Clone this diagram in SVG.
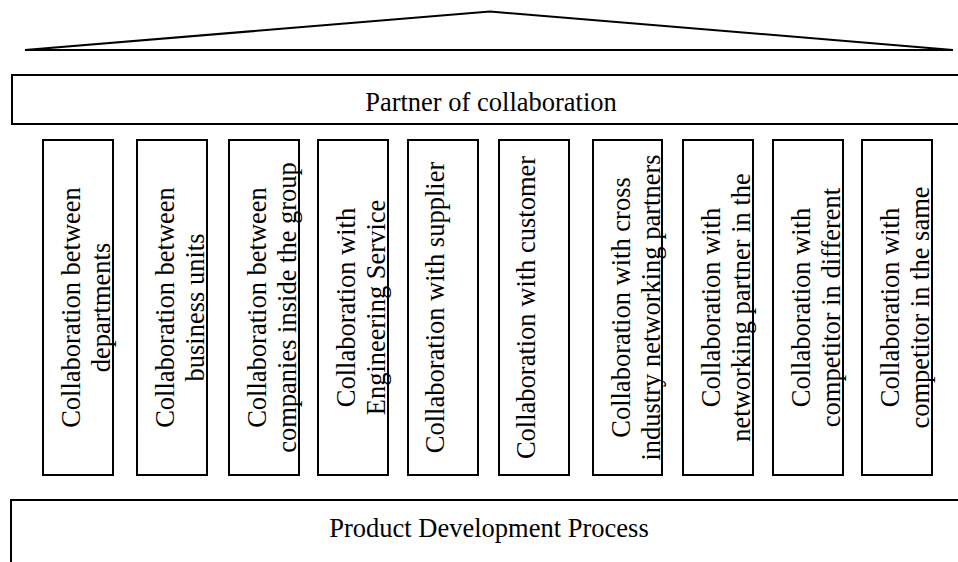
<svg xmlns="http://www.w3.org/2000/svg" width="958" height="562" viewBox="0 0 958 562">
  <style>
    .box { fill: #ffffff; stroke: #000000; stroke-width: 2; }
    .roof { fill: none; stroke: #000000; stroke-width: 2; stroke-linejoin: miter; }
    .lbl { font-family: "Liberation Serif", "Times New Roman", serif; font-size: 26.5px; fill: #000000; text-anchor: middle; }
  </style>
  <rect width="958" height="562" fill="#ffffff"/>

  <!-- roof of the house -->
  <g id="roof">
    <polygon class="roof" points="25,50 490,11.5 953,50"/>
  </g>

  <!-- top beam -->
  <g id="partner">
    <rect class="box" x="12" y="75" width="960" height="49"/>
    <text class="lbl" x="491" y="111">Partner of collaboration</text>
  </g>

  <!-- pillars: vertical text, reading bottom to top -->
  <g id="pillar-departments">
    <rect class="box" x="43" y="140" width="70" height="335"/>
    <text class="lbl" transform="translate(79.5,307.5) rotate(-90)"><tspan x="0" y="0">Collaboration between</tspan><tspan x="0" y="30">departments</tspan></text>
  </g>
  <g id="pillar-business-units">
    <rect class="box" x="137" y="140" width="70" height="335"/>
    <text class="lbl" transform="translate(173.5,307.5) rotate(-90)"><tspan x="0" y="0">Collaboration between</tspan><tspan x="0" y="30">business units</tspan></text>
  </g>
  <g id="pillar-group-companies">
    <rect class="box" x="229" y="140" width="70" height="335"/>
    <text class="lbl" transform="translate(265.5,307.5) rotate(-90)"><tspan x="0" y="0">Collaboration between</tspan><tspan x="0" y="30">companies inside the group</tspan></text>
  </g>
  <g id="pillar-engineering-service">
    <rect class="box" x="318" y="140" width="70" height="335"/>
    <text class="lbl" transform="translate(354.5,307.5) rotate(-90)"><tspan x="0" y="0">Collaboration with</tspan><tspan x="0" y="30">Engineering Service</tspan></text>
  </g>
  <g id="pillar-supplier">
    <rect class="box" x="408" y="140" width="70" height="335"/>
    <text class="lbl" transform="translate(443.5,307.5) rotate(-90)"><tspan x="0" y="0">Collaboration with supplier</tspan></text>
  </g>
  <g id="pillar-customer">
    <rect class="box" x="499" y="140" width="70" height="335"/>
    <text class="lbl" transform="translate(534.5,307.5) rotate(-90)"><tspan x="0" y="0">Collaboration with customer</tspan></text>
  </g>
  <g id="pillar-cross-industry">
    <rect class="box" x="593" y="140" width="69" height="335"/>
    <text class="lbl" transform="translate(629.5,307.5) rotate(-90)"><tspan x="0" y="0">Collaboration with cross</tspan><tspan x="0" y="30">industry networking partners</tspan></text>
  </g>
  <g id="pillar-networking-partner">
    <rect class="box" x="683" y="140" width="70" height="335"/>
    <text class="lbl" transform="translate(719.5,307.5) rotate(-90)"><tspan x="0" y="0">Collaboration with</tspan><tspan x="0" y="30">networking partner in the</tspan></text>
  </g>
  <g id="pillar-competitor-different">
    <rect class="box" x="773" y="140" width="70" height="335"/>
    <text class="lbl" transform="translate(809.5,307.5) rotate(-90)"><tspan x="0" y="0">Collaboration with</tspan><tspan x="0" y="30">competitor in different</tspan></text>
  </g>
  <g id="pillar-competitor-same">
    <rect class="box" x="862" y="140" width="70" height="335"/>
    <text class="lbl" transform="translate(898.5,307.5) rotate(-90)"><tspan x="0" y="0">Collaboration with</tspan><tspan x="0" y="30">competitor in the same</tspan></text>
  </g>

  <!-- foundation -->
  <g id="process">
    <rect class="box" x="11" y="500" width="960" height="80"/>
    <text class="lbl" x="489" y="537">Product Development Process</text>
  </g>

  <!-- no connectors are drawn in this diagram -->
  <g id="connectors"/>
</svg>
